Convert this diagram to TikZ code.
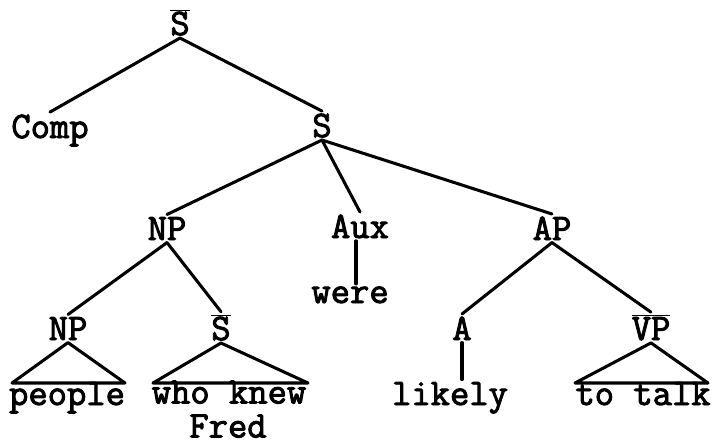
\documentclass[tikz,border=0pt]{standalone}
\usepackage{fontspec}
\setmonofont{Latin Modern Mono}[BoldFont={Latin Modern Mono}, BoldFeatures={FakeBold=2.5}]
\begin{document}
\begin{tikzpicture}[x=0.03cm, y=-0.03cm,
    cat/.style={font=\ttfamily\bfseries\fontsize{32}{36}\selectfont, anchor=base, inner sep=2pt},
    branch/.style={line width=2.6pt, line cap=round, line join=round}]
    \def\ovl#1{$\overline{\mbox{#1}}$}
    \useasboundingbox (0,0) rectangle (713,444);

    % categories
    \node[cat] (Sbar) at (180,35) {\ovl{S}};
    \node[cat] (Comp) at (50,138) {Comp};
    \node[cat] (S) at (322,137) {S};
    \node[cat] (NP) at (167,240) {NP};
    \node[cat] (Aux) at (360,238) {Aux};
    \node[cat] (AP) at (552,240) {AP};
    \node[cat] (NPsub) at (68,340) {NP};
    \node[cat] (Sbarsub) at (221,340) {\ovl{S}};
    \node[cat] (A) at (462,340) {A};
    \node[cat] (VPbar) at (651,340) {\ovl{VP}};

    % words
    \node[cat] (were) at (350,303) {were};
    \node[cat] (people) at (67,405) {people};
    \node[cat, inner sep=0.5pt] (whoknew) at (229,403.5) {who knew};
    \node[cat, inner sep=0.5pt] (Fred) at (228,437.5) {Fred};
    \node[cat] (likely) at (450,405) {likely};
    \node[cat] (totalk) at (643,405) {to talk};

    % branches
    \draw[branch] (Sbar.south) -- (Comp.north);
    \draw[branch] (Sbar.south) -- (S.north);
    \draw[branch] (S.south) -- (NP.north);
    \draw[branch] (S.south) -- (Aux.north);
    \draw[branch] (S.south) -- (AP.north);
    \draw[branch] (NP.south) -- (NPsub.north);
    \draw[branch] (NP.south) -- (Sbarsub.north);
    \draw[branch] (AP.south) -- (A.north);
    \draw[branch] (AP.south) -- (VPbar.north);
    \draw[branch] ([xshift=-0.12cm]Aux.south) -- ([xshift=-0.12cm]Aux.south |- were.north);
    \draw[branch] (A.south) -- (A.south |- likely.north);

    % triangles
    \coordinate (pl) at (12,383); \coordinate (pr) at (125,383);
    \coordinate (wl) at (153,383); \coordinate (wr) at (308,383);
    \coordinate (tl) at (575,383); \coordinate (tr) at (708,383);
    \draw[branch] (NPsub.south) -- (pl) -- (pr) -- cycle;
    \draw[branch] (Sbarsub.south) -- (wl) -- (wr) -- cycle;
    \draw[branch] (VPbar.south) -- (tl) -- (tr) -- cycle;
\end{tikzpicture}
\end{document}
